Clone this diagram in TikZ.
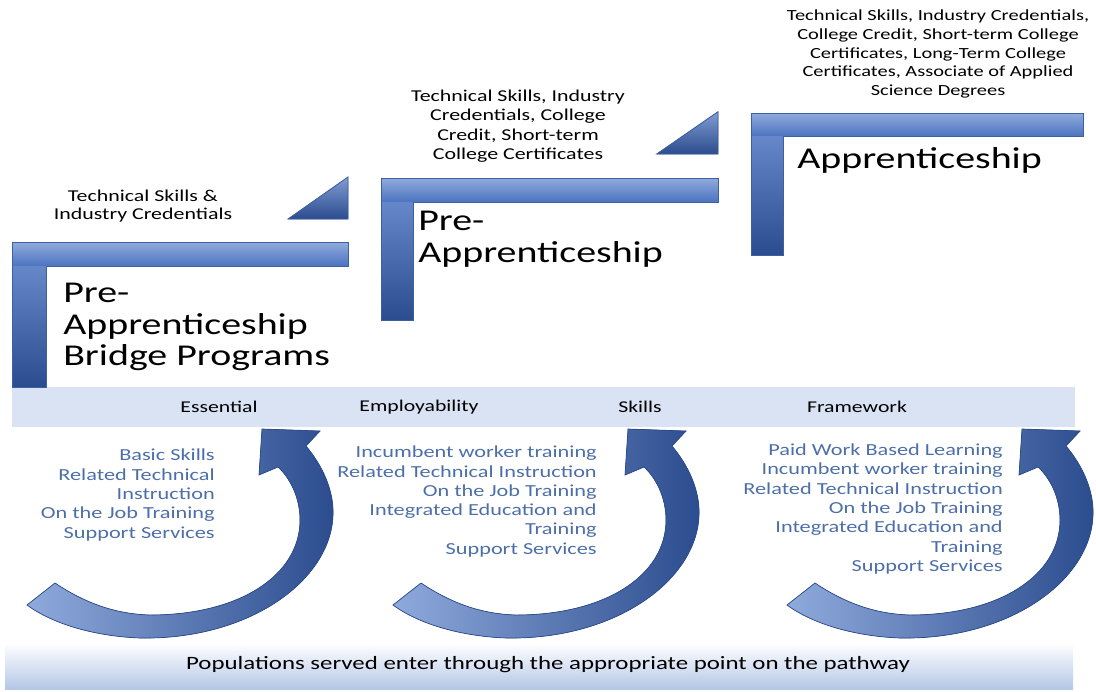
\documentclass[tikz,border=0pt]{standalone}
\usepackage{fontspec}
\setmainfont{Carlito}[FakeStretch=1.32]

\definecolor{bandfill}{HTML}{DAE3F3}
\definecolor{listblue}{HTML}{4C6FA9}
\definecolor{edgeblue}{HTML}{3D5FA3}
\definecolor{paleblue}{HTML}{8FAADC}
\definecolor{midblue}{HTML}{4A72BF}
\definecolor{darkblue}{HTML}{2B4C8E}
\definecolor{entryblue}{HTML}{B4C7E7}

\tikzset{
  barshade/.style={top color=paleblue, bottom color=midblue, draw=none},
  postshade/.style={top color=midblue!85!white, bottom color=darkblue, draw=none},
  stepedge/.style={draw=edgeblue, line width=0.6pt},
  wedge/.style={top color=midblue!70!white, bottom color=darkblue, draw=edgeblue, line width=0.6pt},
  arrowshade/.style={left color=paleblue, middle color=darkblue!80!midblue, right color=darkblue, draw=darkblue, line width=0.5pt},
  uptext/.style={align=center, inner sep=0pt},
  steptitle/.style={anchor=west, align=left, inner sep=0pt},
  listtext/.style={anchor=east, align=right, inner sep=0pt, text=listblue, font=\fontsize{12}{13.7}\selectfont},
  bandlabel/.style={inner sep=0pt, font=\fontsize{11.7}{14}\selectfont}
}

\begin{document}
\begin{tikzpicture}[x=0.025cm,y=-0.025cm]
\useasboundingbox (0,0) rectangle (1096,691);

% band of the framework
\fill[bandfill] (12,387) rectangle (1075,427);
\node[bandlabel] (essential) at (219,407) {Essential};
\node[bandlabel] (employ) at (419,407) {Employability};
\node[bandlabel] (skills) at (640,407) {Skills};
\node[bandlabel] (framework) at (857,407) {Framework};

% step 1
\fill[barshade] (12.7,242.7) rectangle (348,266.7);
\fill[postshade] (12.7,266.7) rectangle (46.7,387);
\draw[stepedge] (12.7,387) -- (12.7,242.7) -- (348,242.7) -- (348,266.7) -- (46.7,266.7) -- (46.7,387) -- cycle;
\filldraw[wedge] (288,219) -- (348,219) -- (348,177) -- cycle;

% step 2
\fill[barshade] (381.7,178.3) rectangle (718,202.7);
\fill[postshade] (381.7,202.7) rectangle (413,320);
\draw[stepedge] (381.7,320) -- (381.7,178.3) -- (718,178.3) -- (718,202.7) -- (413,202.7) -- (413,320) -- cycle;
\filldraw[wedge] (656.7,154) -- (718,154) -- (718,111.7) -- cycle;

% step 3
\fill[barshade] (751.7,113.3) rectangle (1083,136.7);
\fill[postshade] (751.7,136.7) rectangle (783,255);
\draw[stepedge] (751.7,255) -- (751.7,113.3) -- (1083,113.3) -- (1083,136.7) -- (783,136.7) -- (783,255) -- cycle;

% credentials above the steps
\node[uptext, font=\fontsize{11.8}{13.2}\selectfont] (credA) at (143,206)
  {Technical Skills \&\\Industry Credentials};
\node[uptext, font=\fontsize{11.8}{13.8}\selectfont] (credB) at (518,126)
  {Technical Skills, Industry\\Credentials, College\\Credit, Short-term\\College Certificates};
\node[uptext, font=\fontsize{11}{13.3}\selectfont] (credC) at (938,54)
  {Technical Skills, Industry Credentials,\\College Credit, Short-term College\\Certificates, Long-Term College\\Certificates, Associate of Applied\\Science Degrees};

% step titles
\node[steptitle, font=\fontsize{21.5}{22.6}\selectfont] (bridge) at (63,327)
  {Pre-\\Apprenticeship\\Bridge Programs};
\node[steptitle, font=\fontsize{21.5}{22.8}\selectfont] (preapp) at (418,239)
  {Pre-\\Apprenticeship};
\node[steptitle, font=\fontsize{21.5}{23}\selectfont] (app) at (797,160)
  {Apprenticeship};

% curved arrows
\foreach \dx in {0,366,760}{
  \begin{scope}[shift={(\dx,0)}]
    \filldraw[arrowshade] (262,429) -- (320,431) -- (306,446)
      .. controls (322,465) and (334,490) .. (333,515)
      .. controls (331,580) and (250,640) .. (140,638)
      .. controls (90,636) and (50,622) .. (27,605)
      -- (55,583)
      .. controls (85,603) and (115,614) .. (150,615)
      .. controls (240,615) and (300,575) .. (300,520)
      .. controls (300,500) and (292,480) .. (278,467)
      -- (259,475) -- cycle;
  \end{scope}
}

% services
\node[listtext] (listA) at (215,495)
  {Basic Skills\\Related Technical\\Instruction\\On the Job Training\\Support Services};
\node[listtext] (listB) at (597,501.5)
  {Incumbent worker training\\Related Technical Instruction\\On the Job Training\\Integrated Education and\\Training\\Support Services};
\node[listtext] (listC) at (1003,509)
  {Paid Work Based Learning\\Incumbent worker training\\Related Technical Instruction\\On the Job Training\\Integrated Education and\\Training\\Support Services};

% entry band
\shade[top color=white, bottom color=entryblue] (5,643) rectangle (1073,689);
\node[inner sep=0pt, font=\fontsize{13.4}{16}\selectfont] (enter) at (548,665)
  {Populations served enter through the appropriate point on the pathway};
\end{tikzpicture}
\end{document}
